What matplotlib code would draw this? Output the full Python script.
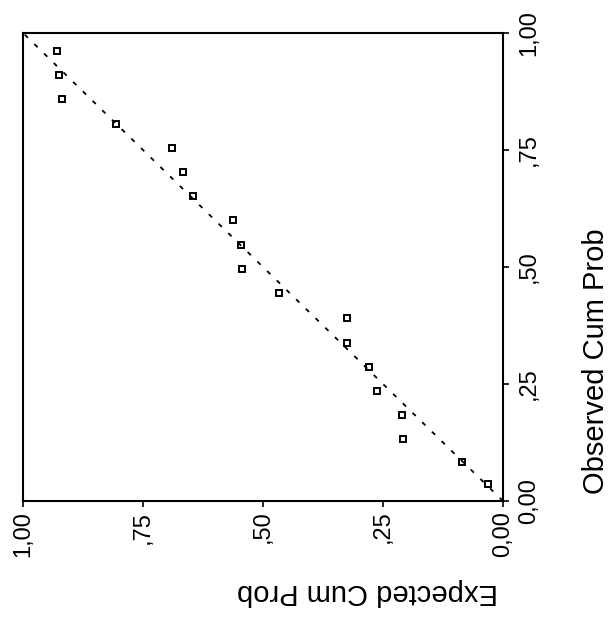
import matplotlib
matplotlib.use("Agg")
import matplotlib.pyplot as plt

plt.rcParams['font.family'] = ['Liberation Sans', 'DejaVu Sans']

observed = [0.961, 0.910, 0.858, 0.805, 0.754, 0.702, 0.651, 0.600, 0.548, 0.496,
            0.444, 0.390, 0.337, 0.287, 0.236, 0.184, 0.132, 0.084, 0.036]
expected = [0.930, 0.924, 0.919, 0.806, 0.690, 0.666, 0.646, 0.562, 0.546, 0.544,
            0.467, 0.326, 0.324, 0.279, 0.263, 0.211, 0.208, 0.086, 0.031]

tick_values = [0.0, 0.25, 0.5, 0.75, 1.0]
tick_labels = ['0,00', ',25', ',50', ',75', '1,00']

W, H = 611, 630
fig = plt.figure(figsize=(W / 100, H / 100), dpi=100)
ax = fig.add_axes([23 / W, (H - 501) / H, 480 / W, 468 / H])

# reference diagonal
ax.plot([0, 1], [0, 1], color='black', lw=1.3, linestyle=(0, (2.5, 5)))
ax.plot(expected, observed, linestyle='none', marker='s', markersize=5,
        markerfacecolor='none', markeredgecolor='black', markeredgewidth=1.4)

ax.set_xlim(1, 0)
ax.set_ylim(0, 1)

for s in ax.spines.values():
    s.set_linewidth(1.5)
    s.set_color('black')

ax.yaxis.tick_right()
ax.set_xticks(tick_values)
ax.set_xticklabels(tick_labels, rotation=90, fontsize=17)
ax.set_yticks(tick_values)
ax.set_yticklabels(tick_labels, rotation=90, va='center', fontsize=17)
ax.tick_params(axis='x', direction='out', length=4, width=1.2, pad=3)
ax.tick_params(axis='y', direction='out', length=4, width=1.2, pad=7)

fig.text(596 / W, 1 - 361 / H, 'Observed Cum Prob', rotation=90,
         ha='center', va='center', fontsize=21)
fig.text(367 / W, 1 - 592 / H, 'Expected Cum Prob', rotation=180,
         ha='center', va='center', fontsize=21)

fig.savefig('out.png', dpi=100, facecolor='white')
